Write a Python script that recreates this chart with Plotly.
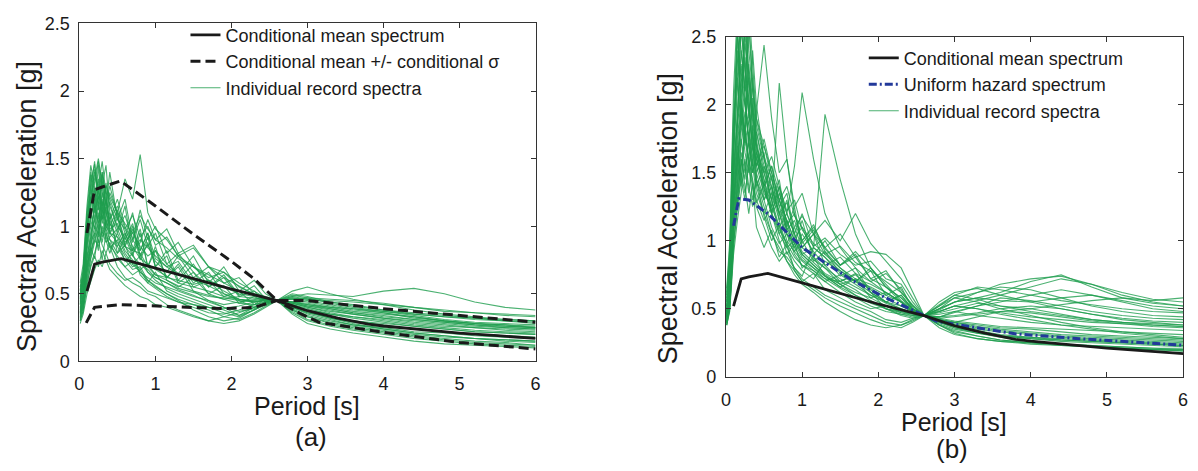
import plotly.graph_objects as go

# ---------------- data ----------------
periods = [0.01, 0.05, 0.1, 0.15, 0.2, 0.25, 0.3, 0.35, 0.4, 0.5, 0.6, 0.7, 0.8, 0.9, 1.0,
           1.15, 1.3, 1.5, 1.7, 1.9, 2.1, 2.3, 2.45, 2.6, 2.8, 3.0, 3.3, 3.6, 4.0, 4.4,
           4.8, 5.2, 5.6, 6.0]

cms_T = [0.1, 0.2, 0.3, 0.55, 1.0, 1.5, 2.0, 2.6, 3.0, 3.4, 3.8, 4.0, 4.5, 5.0, 5.5, 6.0]
cms_sa = [0.52, 0.72, 0.735, 0.76, 0.69, 0.61, 0.535, 0.45, 0.375, 0.32, 0.275, 0.262, 0.235, 0.21, 0.19, 0.17]

upper_T = [0.1, 0.2, 0.3, 0.54, 1.0, 1.5, 2.0, 2.3, 2.6, 3.0, 4.0, 5.0, 6.0]
upper_sa = [0.95, 1.27, 1.29, 1.335, 1.15, 0.94, 0.74, 0.61, 0.45, 0.45, 0.39, 0.34, 0.29]

lower_T = [0.09, 0.2, 0.54, 1.0, 1.5, 1.9, 2.3, 2.6, 2.9, 3.15, 4.0, 5.0, 6.0]
lower_sa = [0.285, 0.40, 0.42, 0.41, 0.40, 0.39, 0.40, 0.45, 0.355, 0.29, 0.215, 0.14, 0.092]

uhs_T = [0.1, 0.17, 0.3, 0.56, 1.0, 1.64, 2.08, 2.6, 2.77, 3.29, 3.81, 4.64, 6.0]
uhs_sa = [1.11, 1.31, 1.30, 1.195, 0.95, 0.715, 0.585, 0.45, 0.408, 0.361, 0.315, 0.28, 0.232]

# individual record spectra, panel (a)
a01 = [0.42,0.55,0.95,1.30,1.10,1.45,1.05,1.20,0.95,1.10,0.85,0.98,0.75,0.88,0.70,0.62,0.72,0.55,0.60,0.48,0.52,0.42,0.47,0.45,0.42,0.38,0.33,0.30,0.27,0.24,0.22,0.20,0.19,0.17]
a02 = [0.35,0.45,0.70,0.85,1.20,0.95,1.35,1.00,1.10,0.80,0.92,0.78,0.95,0.70,0.82,0.62,0.70,0.52,0.45,0.40,0.34,0.40,0.47,0.45,0.50,0.48,0.44,0.42,0.38,0.35,0.33,0.32,0.30,0.29]
a03 = [0.50,0.62,1.05,1.25,1.48,1.20,1.30,1.15,1.40,1.05,1.20,0.90,1.05,0.85,0.95,0.72,0.80,0.66,0.55,0.62,0.48,0.52,0.44,0.45,0.38,0.33,0.28,0.25,0.22,0.19,0.17,0.15,0.14,0.12]
a04 = [0.30,0.38,0.55,0.72,0.80,0.90,0.75,0.95,0.85,0.70,0.62,0.58,0.55,0.50,0.48,0.42,0.38,0.34,0.30,0.33,0.36,0.40,0.43,0.45,0.47,0.46,0.45,0.44,0.42,0.40,0.37,0.36,0.34,0.33]
a05 = [0.45,0.60,0.88,1.10,0.98,1.25,1.40,1.15,1.05,1.20,1.00,0.88,1.12,0.90,1.00,0.80,0.88,0.70,0.62,0.66,0.55,0.50,0.46,0.45,0.36,0.30,0.26,0.23,0.20,0.17,0.15,0.13,0.12,0.11]
a06 = [0.38,0.48,0.75,0.90,1.05,1.15,0.95,1.05,1.25,1.10,1.35,1.20,1.53,1.10,0.98,0.90,0.78,0.70,0.60,0.52,0.46,0.44,0.45,0.45,0.40,0.36,0.33,0.30,0.28,0.26,0.24,0.22,0.21,0.20]
a07 = [0.55,0.68,1.10,1.40,1.25,1.05,1.20,0.98,0.90,0.85,0.75,0.68,0.70,0.60,0.55,0.50,0.46,0.42,0.38,0.33,0.31,0.36,0.41,0.45,0.52,0.55,0.50,0.46,0.42,0.38,0.35,0.33,0.31,0.30]
a08 = [0.33,0.42,0.65,0.80,0.95,0.82,1.00,0.90,0.80,0.95,0.82,0.75,0.68,0.72,0.64,0.60,0.55,0.62,0.50,0.56,0.43,0.48,0.44,0.45,0.43,0.40,0.37,0.35,0.32,0.29,0.27,0.25,0.24,0.23]
a09 = [0.48,0.58,0.90,1.20,1.35,1.50,1.30,1.45,1.10,0.95,1.15,0.82,0.98,0.70,0.85,0.60,0.56,0.52,0.49,0.46,0.48,0.47,0.46,0.45,0.41,0.37,0.32,0.28,0.24,0.21,0.19,0.17,0.16,0.15]
a10 = [0.40,0.50,0.78,0.92,1.15,1.02,1.10,1.28,0.98,1.02,0.88,0.95,0.85,0.78,0.82,0.72,0.65,0.78,0.58,0.70,0.52,0.60,0.50,0.45,0.44,0.42,0.40,0.37,0.35,0.33,0.30,0.28,0.27,0.26]
a11 = [0.28,0.35,0.50,0.60,0.68,0.75,0.70,0.80,0.72,0.65,0.60,0.62,0.58,0.52,0.50,0.47,0.44,0.42,0.40,0.39,0.41,0.44,0.46,0.45,0.48,0.50,0.49,0.48,0.52,0.54,0.50,0.44,0.40,0.38]
a12 = [0.52,0.65,1.00,1.15,1.30,1.15,1.38,1.25,1.20,1.05,0.98,0.85,0.76,0.72,0.68,0.63,0.58,0.55,0.52,0.48,0.46,0.44,0.45,0.45,0.35,0.28,0.24,0.21,0.18,0.15,0.13,0.12,0.11,0.10]
a13 = [0.36,0.46,0.72,0.88,0.95,1.10,0.92,0.98,1.05,0.85,0.95,0.80,0.88,1.05,0.90,0.98,0.80,0.86,0.70,0.62,0.56,0.50,0.45,0.45,0.46,0.44,0.41,0.38,0.36,0.32,0.30,0.28,0.27,0.25]
a14 = [0.44,0.55,0.85,1.05,1.20,1.35,1.15,1.00,0.95,0.92,0.80,0.72,0.66,0.60,0.56,0.50,0.45,0.38,0.33,0.30,0.32,0.38,0.43,0.45,0.40,0.35,0.31,0.27,0.25,0.22,0.21,0.19,0.18,0.17]
a15 = [0.31,0.40,0.60,0.76,0.88,0.98,1.08,0.92,0.86,0.78,0.70,0.74,0.66,0.62,0.58,0.55,0.52,0.48,0.45,0.42,0.44,0.46,0.47,0.45,0.43,0.41,0.39,0.36,0.33,0.31,0.29,0.27,0.25,0.24]
a16 = [0.47,0.60,0.98,1.20,1.42,1.28,1.10,1.32,1.15,1.00,0.92,1.10,0.82,0.95,0.70,0.82,0.60,0.72,0.55,0.64,0.49,0.56,0.46,0.45,0.38,0.33,0.29,0.26,0.23,0.20,0.18,0.17,0.15,0.14]
a17 = [0.39,0.49,0.76,0.95,1.05,0.92,1.18,1.05,0.95,0.88,0.78,0.70,0.73,0.66,0.62,0.58,0.53,0.49,0.44,0.40,0.37,0.39,0.44,0.45,0.49,0.47,0.43,0.40,0.37,0.34,0.31,0.29,0.28,0.27]
a18 = [0.58,0.72,1.15,1.45,1.30,1.48,1.25,1.10,1.02,0.92,0.85,0.78,0.72,0.68,0.62,0.58,0.54,0.51,0.48,0.47,0.45,0.44,0.45,0.45,0.37,0.31,0.27,0.24,0.21,0.18,0.16,0.14,0.13,0.12]
a19 = [0.34,0.43,0.66,0.82,0.90,0.85,0.96,0.88,0.92,0.98,0.85,0.82,0.90,0.84,0.78,0.70,0.64,0.60,0.56,0.50,0.46,0.45,0.46,0.45,0.44,0.43,0.40,0.39,0.37,0.35,0.33,0.31,0.30,0.28]
a20 = [0.42,0.52,0.82,1.00,1.12,1.22,1.05,1.15,1.30,1.08,0.90,1.02,0.78,0.92,0.70,0.78,0.58,0.66,0.50,0.46,0.43,0.42,0.44,0.45,0.42,0.39,0.35,0.32,0.29,0.26,0.24,0.22,0.21,0.20]
a21 = [0.30,0.37,0.58,0.70,0.78,0.70,0.82,0.75,0.68,0.62,0.56,0.52,0.48,0.46,0.42,0.40,0.37,0.33,0.30,0.28,0.30,0.35,0.40,0.45,0.47,0.45,0.42,0.39,0.36,0.33,0.30,0.28,0.26,0.25]
a22 = [0.50,0.64,1.02,1.22,1.05,1.30,1.48,1.22,1.00,1.12,0.95,0.82,0.80,0.70,0.64,0.62,0.60,0.57,0.60,0.55,0.50,0.48,0.47,0.45,0.39,0.34,0.30,0.27,0.24,0.21,0.19,0.17,0.16,0.15]
a23 = [0.46,0.58,0.92,1.38,1.15,1.02,1.25,1.08,1.18,0.98,1.08,0.90,0.82,0.95,0.76,0.70,0.74,0.58,0.66,0.50,0.45,0.40,0.43,0.45,0.48,0.46,0.44,0.41,0.38,0.36,0.34,0.32,0.31,0.30]
a24 = [0.37,0.47,0.70,0.86,1.00,0.88,1.12,0.96,0.84,0.90,0.74,0.80,0.64,0.58,0.66,0.52,0.48,0.44,0.40,0.36,0.33,0.38,0.42,0.45,0.41,0.38,0.35,0.33,0.31,0.28,0.26,0.25,0.23,0.22]
a25 = [0.53,0.66,1.08,1.32,1.46,1.18,1.02,1.14,0.94,1.06,0.86,1.00,0.78,0.86,0.74,0.66,0.78,0.62,0.70,0.58,0.62,0.50,0.48,0.45,0.43,0.40,0.36,0.33,0.30,0.27,0.25,0.23,0.22,0.21]
a26 = [0.43,0.54,0.86,1.08,1.28,1.12,1.40,1.18,1.05,1.15,0.98,1.08,0.92,1.00,0.86,0.92,0.78,0.84,0.70,0.66,0.58,0.52,0.47,0.45,0.44,0.41,0.38,0.35,0.32,0.30,0.28,0.26,0.25,0.24]
a27 = [0.32,0.41,0.62,0.78,0.92,1.02,0.88,1.05,0.90,0.80,0.86,0.72,0.78,0.66,0.60,0.54,0.50,0.46,0.42,0.38,0.34,0.38,0.42,0.45,0.44,0.42,0.39,0.36,0.34,0.31,0.29,0.27,0.26,0.25]
a28 = [0.49,0.61,0.96,1.18,1.40,1.25,1.15,1.30,1.22,1.10,1.02,0.95,1.08,0.98,0.90,0.84,0.76,0.70,0.64,0.58,0.52,0.49,0.46,0.45,0.40,0.36,0.32,0.29,0.26,0.24,0.22,0.20,0.19,0.18]
a29 = [0.36,0.45,0.68,0.84,0.76,0.96,0.86,0.80,0.88,0.76,0.70,0.64,0.68,0.58,0.54,0.48,0.44,0.40,0.36,0.35,0.38,0.42,0.44,0.45,0.46,0.47,0.46,0.45,0.43,0.40,0.38,0.36,0.35,0.34]

# individual record spectra, panel (b)
b01 = [0.45,0.70,1.60,2.60,1.90,2.70,2.20,1.80,1.50,1.65,1.20,1.40,1.05,0.98,1.15,0.86,0.80,0.68,0.72,0.58,0.52,0.47,0.45,0.45,0.52,0.58,0.55,0.50,0.45,0.40,0.36,0.33,0.31,0.29]
b02 = [0.40,0.55,1.20,1.50,2.00,1.70,2.60,2.10,1.75,1.40,1.55,1.25,1.35,1.05,1.20,0.95,0.88,0.74,0.80,0.62,0.50,0.45,0.43,0.45,0.48,0.52,0.56,0.60,0.66,0.72,0.68,0.60,0.55,0.52]
b03 = [0.60,0.90,1.90,2.20,2.70,2.30,1.90,2.40,2.00,1.60,1.40,1.20,1.00,0.92,0.85,0.78,0.70,0.62,0.55,0.50,0.52,0.48,0.46,0.45,0.40,0.36,0.32,0.29,0.26,0.24,0.22,0.21,0.20,0.19]
b04 = [0.38,0.50,0.95,1.30,1.60,1.45,1.80,1.55,1.95,2.44,1.90,1.50,1.60,1.25,1.35,1.05,0.95,0.82,0.90,0.72,0.66,0.58,0.50,0.45,0.42,0.40,0.38,0.36,0.35,0.33,0.31,0.30,0.29,0.28]
b05 = [0.50,0.75,1.50,1.85,2.10,2.55,2.00,1.70,1.55,1.35,1.25,2.16,1.60,1.20,1.00,1.12,0.92,0.80,0.70,0.78,0.60,0.66,0.50,0.45,0.44,0.48,0.52,0.55,0.60,0.64,0.60,0.55,0.50,0.48]
b06 = [0.42,0.60,1.30,1.70,1.45,1.90,2.30,1.95,1.65,1.50,1.30,1.10,1.20,1.55,2.09,1.60,1.20,0.95,0.80,0.70,0.62,0.55,0.48,0.45,0.38,0.33,0.30,0.27,0.25,0.23,0.22,0.21,0.20,0.19]
b07 = [0.55,0.85,1.75,2.40,2.00,1.80,1.60,1.85,1.45,1.25,1.05,0.92,0.88,0.80,0.74,0.95,1.93,1.45,1.05,0.80,0.68,0.56,0.50,0.45,0.50,0.55,0.62,0.66,0.64,0.58,0.52,0.48,0.45,0.44]
b08 = [0.40,0.52,1.05,1.40,1.75,1.55,1.35,1.60,1.40,1.20,1.35,1.15,0.95,0.85,0.78,0.72,0.85,0.78,0.70,0.62,0.55,0.52,0.48,0.45,0.55,0.62,0.65,0.60,0.55,0.50,0.46,0.43,0.41,0.40]
b09 = [0.48,0.72,1.45,1.95,2.30,2.00,1.75,1.50,1.65,1.45,1.20,1.00,0.85,0.75,0.68,0.62,0.55,0.48,0.42,0.38,0.36,0.38,0.42,0.45,0.40,0.37,0.33,0.30,0.28,0.26,0.25,0.24,0.23,0.22]
b10 = [0.65,1.00,2.10,2.70,2.40,2.10,2.60,2.20,1.80,1.50,1.30,1.45,1.10,1.25,0.95,1.05,0.82,0.70,0.76,0.62,0.55,0.60,0.50,0.45,0.43,0.41,0.39,0.37,0.36,0.35,0.34,0.33,0.32,0.31]
b11 = [0.38,0.48,0.90,1.15,1.35,1.60,1.40,1.25,1.50,1.30,1.10,0.98,1.05,0.90,0.82,0.78,0.72,0.70,0.75,0.65,0.58,0.52,0.48,0.45,0.50,0.58,0.62,0.68,0.72,0.74,0.68,0.62,0.57,0.55]
b12 = [0.44,0.62,1.25,1.60,1.90,1.65,1.50,1.80,1.55,1.70,1.50,1.30,1.15,1.00,0.95,0.88,0.80,0.72,0.66,0.60,0.55,0.50,0.47,0.45,0.41,0.38,0.34,0.31,0.29,0.27,0.26,0.25,0.24,0.23]
b13 = [0.52,0.80,1.65,2.10,2.55,2.25,2.05,1.75,1.60,1.40,1.55,1.35,1.20,1.05,0.90,0.82,0.75,0.68,0.60,0.55,0.50,0.47,0.46,0.45,0.48,0.52,0.50,0.46,0.42,0.38,0.35,0.32,0.30,0.28]
b14 = [0.40,0.55,1.10,1.35,1.55,1.80,1.60,1.45,1.30,1.15,1.25,1.10,0.98,1.10,0.95,1.05,0.90,0.80,0.72,0.68,0.62,0.55,0.49,0.45,0.42,0.40,0.44,0.48,0.50,0.46,0.42,0.40,0.38,0.37]
b15 = [0.58,0.88,1.80,2.30,2.60,2.80,2.40,2.10,1.90,1.70,1.45,1.25,1.10,0.98,0.88,0.80,0.72,0.65,0.58,0.52,0.48,0.46,0.45,0.45,0.44,0.45,0.47,0.50,0.52,0.50,0.46,0.42,0.40,0.38]
b16 = [0.42,0.58,1.15,1.45,1.70,1.95,1.75,2.05,1.70,1.45,1.25,1.40,1.20,1.05,0.92,0.84,0.76,0.70,0.64,0.56,0.50,0.46,0.44,0.45,0.38,0.32,0.28,0.26,0.24,0.23,0.22,0.21,0.20,0.20]
b17 = [0.46,0.66,1.35,1.75,2.05,1.80,2.20,1.90,1.65,1.40,1.20,1.05,0.95,1.00,0.90,0.95,0.88,0.78,0.70,0.66,0.60,0.55,0.48,0.45,0.49,0.55,0.58,0.56,0.55,0.58,0.60,0.56,0.52,0.50]
b18 = [0.39,0.52,1.00,1.25,1.50,1.35,1.55,1.40,1.25,1.10,0.95,0.85,0.92,0.80,0.72,0.66,0.60,0.55,0.50,0.45,0.40,0.38,0.41,0.45,0.50,0.55,0.58,0.62,0.70,0.75,0.66,0.58,0.54,0.52]
b19 = [0.62,0.95,1.95,2.55,2.20,2.00,1.85,1.60,1.80,1.55,1.35,1.20,1.05,0.95,0.86,0.80,0.74,0.66,0.60,0.54,0.50,0.48,0.46,0.45,0.38,0.34,0.30,0.27,0.25,0.24,0.23,0.22,0.21,0.20]
b20 = [0.44,0.64,1.30,1.55,1.85,2.15,1.95,1.70,1.55,1.75,1.50,1.30,1.15,1.00,0.90,0.82,0.74,0.68,0.62,0.58,0.62,0.55,0.49,0.45,0.46,0.48,0.45,0.43,0.40,0.38,0.37,0.36,0.35,0.34]
b21 = [0.40,0.56,1.12,1.40,1.65,1.50,1.72,1.55,1.35,1.20,1.05,0.95,0.85,0.78,0.70,0.64,0.58,0.52,0.47,0.42,0.38,0.36,0.40,0.45,0.44,0.47,0.52,0.58,0.56,0.52,0.48,0.45,0.43,0.42]
b22 = [0.50,0.78,1.55,1.90,2.20,2.45,2.15,1.85,1.60,1.38,1.20,1.08,0.98,0.88,0.82,0.76,0.70,0.75,0.68,0.60,0.54,0.50,0.47,0.45,0.41,0.39,0.36,0.34,0.32,0.30,0.29,0.28,0.27,0.26]
b23 = [0.47,0.68,1.40,1.80,2.65,2.10,1.70,2.00,1.72,1.30,1.48,1.15,1.30,1.02,1.10,0.90,1.00,0.82,0.88,0.72,0.78,0.62,0.52,0.45,0.40,0.36,0.33,0.30,0.28,0.27,0.26,0.25,0.24,0.23]
b24 = [0.43,0.62,1.22,1.65,1.40,1.85,1.55,1.30,1.45,1.18,1.00,1.12,0.90,0.98,0.80,0.88,0.74,0.66,0.72,0.64,0.55,0.60,0.50,0.45,0.47,0.50,0.54,0.52,0.48,0.45,0.42,0.40,0.39,0.38]
b25 = [0.56,0.82,1.70,2.50,2.05,2.35,1.95,1.65,1.40,1.55,1.30,1.05,1.15,0.92,1.00,0.85,0.92,0.76,0.70,0.80,0.66,0.55,0.48,0.45,0.41,0.38,0.35,0.33,0.31,0.29,0.28,0.27,0.26,0.25]
b26 = [0.41,0.58,1.08,1.30,1.60,1.38,1.20,1.42,1.10,0.95,1.08,0.88,0.98,0.78,0.70,0.76,0.64,0.58,0.52,0.48,0.42,0.40,0.43,0.45,0.52,0.60,0.66,0.64,0.60,0.56,0.53,0.50,0.48,0.47]
b27 = [0.45,0.66,1.30,1.70,2.00,1.75,1.55,1.70,1.45,1.30,1.40,1.20,1.28,1.10,1.18,1.05,1.15,1.00,1.20,0.98,0.85,0.72,0.58,0.45,0.42,0.40,0.37,0.35,0.33,0.31,0.30,0.29,0.28,0.27]
b28 = [0.40,0.58,1.15,1.50,1.80,2.05,1.70,1.50,1.62,1.38,1.22,1.35,1.12,1.20,1.00,1.10,0.95,1.05,0.88,0.92,0.90,0.80,0.62,0.45,0.48,0.52,0.50,0.47,0.44,0.42,0.40,0.39,0.38,0.37]
b29 = [0.52,0.76,1.60,2.20,1.85,2.60,2.25,1.95,1.70,1.50,1.62,1.40,1.22,1.30,1.08,0.96,1.02,0.90,0.82,0.85,0.72,0.68,0.55,0.45,0.36,0.31,0.28,0.26,0.25,0.24,0.23,0.22,0.21,0.21]
b30 = [0.38,0.50,0.98,1.25,1.45,1.30,1.62,1.42,1.28,1.42,1.20,1.30,1.08,0.95,1.05,0.92,0.82,0.88,0.76,0.70,0.76,0.64,0.52,0.45,0.53,0.60,0.57,0.52,0.50,0.53,0.56,0.58,0.56,0.58]
b31 = [0.48,0.70,1.45,1.90,2.40,2.10,2.75,2.30,1.90,1.62,1.45,1.30,1.40,1.18,1.10,0.98,0.90,0.96,0.84,0.78,0.70,0.62,0.53,0.45,0.43,0.44,0.46,0.48,0.47,0.44,0.41,0.39,0.37,0.36]
b32 = [0.44,0.63,1.25,1.58,1.95,1.72,1.88,2.20,1.85,1.60,1.38,1.22,1.08,1.15,0.98,1.08,0.94,0.82,0.92,0.80,0.66,0.58,0.50,0.45,0.39,0.35,0.32,0.30,0.29,0.28,0.27,0.26,0.25,0.24]

records_a = [a01, a02, a03, a04, a05, a06, a07, a08, a09, a10, a11, a12, a13, a14, a15,
             a16, a17, a18, a19, a20, a21, a22, a23, a24, a25, a26, a27, a28, a29]
records_b = [b01, b02, b03, b04, b05, b06, b07, b08, b09, b10, b11, b12, b13, b14, b15, b16,
             b17, b18, b19, b20, b21, b22, b23, b24, b25, b26, b27, b28, b29, b30, b31, b32]

x_ticks = [0, 1, 2, 3, 4, 5, 6]
y_ticks = [0, 0.5, 1, 1.5, 2, 2.5]
y_tick_text = ["0", "0.5", "1", "1.5", "2", "2.5"]

# ---------------- figure ----------------
W, H = 1198, 471
FONT = "Liberation Sans, Arial, Helvetica, sans-serif"
GREEN = "rgba(30,158,78,0.8)"
INK = "#1a1a1a"

fig = go.Figure()

for i, rec in enumerate(records_a):
    fig.add_trace(go.Scatter(
        x=periods, y=rec, mode="lines", xaxis="x", yaxis="y",
        line=dict(color=GREEN, width=1.1),
        name="Individual record spectra", legendgroup="rec_a",
        showlegend=(i == 0), legend="legend", legendrank=3, hoverinfo="skip"))
fig.add_trace(go.Scatter(
    x=upper_T, y=upper_sa, mode="lines", xaxis="x", yaxis="y",
    line=dict(color=INK, width=3, dash="10px,5px"),
    name="Conditional mean +/- conditional σ", legendgroup="sig",
    showlegend=True, legend="legend", legendrank=2))
fig.add_trace(go.Scatter(
    x=lower_T, y=lower_sa, mode="lines", xaxis="x", yaxis="y",
    line=dict(color=INK, width=3, dash="10px,5px"),
    name="Conditional mean +/- conditional σ", legendgroup="sig",
    showlegend=False, legend="legend"))
fig.add_trace(go.Scatter(
    x=cms_T, y=cms_sa, mode="lines", xaxis="x", yaxis="y",
    line=dict(color=INK, width=2.8),
    name="Conditional mean spectrum", legendgroup="cms_a", showlegend=True,
    legend="legend", legendrank=1))

for i, rec in enumerate(records_b):
    fig.add_trace(go.Scatter(
        x=periods, y=rec, mode="lines", xaxis="x2", yaxis="y2",
        line=dict(color=GREEN, width=1.1),
        name="Individual record spectra", legendgroup="rec_b",
        showlegend=(i == 0), legend="legend2", legendrank=3, hoverinfo="skip"))
fig.add_trace(go.Scatter(
    x=uhs_T, y=uhs_sa, mode="lines", xaxis="x2", yaxis="y2",
    line=dict(color="#22399a", width=3, dash="8px,3px,2px,3px"),
    name="Uniform hazard spectrum", legendgroup="uhs", showlegend=True,
    legend="legend2", legendrank=2))
fig.add_trace(go.Scatter(
    x=cms_T, y=cms_sa, mode="lines", xaxis="x2", yaxis="y2",
    line=dict(color=INK, width=2.8),
    name="Conditional mean spectrum", legendgroup="cms_b", showlegend=True,
    legend="legend2", legendrank=1))

axis_common = dict(
    showline=True, linecolor="#333", linewidth=1, mirror="ticks",
    ticks="inside", ticklen=5, tickwidth=1, tickcolor="#333",
    showgrid=False, zeroline=False,
    tickfont=dict(family=FONT, size=18, color=INK),
)

fig.update_layout(
    width=W, height=H,
    margin=dict(l=0, r=0, t=0, b=0),
    paper_bgcolor="white", plot_bgcolor="white",
    font=dict(family=FONT, color=INK),
    xaxis=dict(domain=[75 / W, 535 / W], range=[0, 6], anchor="y",
               tickvals=x_ticks, ticklabelstandoff=6, **axis_common),
    yaxis=dict(domain=[1 - 367 / H, 1 - 14 / H], range=[0, 2.5], anchor="x",
               tickvals=y_ticks, ticktext=y_tick_text, ticklabelstandoff=5, **axis_common),
    xaxis2=dict(domain=[727 / W, 1188 / W], range=[0, 6], anchor="y2",
                tickvals=x_ticks, ticklabelstandoff=7, **axis_common),
    yaxis2=dict(domain=[1 - 383 / H, 1 - 28 / H], range=[0, 2.5], anchor="x2",
                tickvals=y_ticks, ticktext=y_tick_text, ticklabelstandoff=5, **axis_common),
    legend=dict(x=182 / W, y=1 - 7 / H, xanchor="left", yanchor="top",
                bgcolor="rgba(0,0,0,0)", borderwidth=0, tracegroupgap=0,
                font=dict(family=FONT, size=18, color=INK)),
    legend2=dict(x=866 / W, y=1 - 31 / H, xanchor="left", yanchor="top",
                 bgcolor="rgba(0,0,0,0)", borderwidth=0, tracegroupgap=0,
                 font=dict(family=FONT, size=18, color=INK)),
    showlegend=True,
)

def ann(text, x, y, size, angle=0):
    fig.add_annotation(text=text, x=x / W, y=1 - y / H, xref="paper", yref="paper",
                       showarrow=False, textangle=angle, xanchor="center", yanchor="middle",
                       font=dict(family=FONT, size=size, color=INK))

ann("Period [s]", 305, 414, 25)
ann("(a)", 309, 446, 26)
ann("Spectral Acceleration [g]", 22, 205, 27, -90)
ann("Period [s]", 957, 430, 25)
ann("(b)", 955, 458, 26)
ann("Spectral Acceleration [g]", 668, 218, 27, -90)

fig.write_html("out.html")
